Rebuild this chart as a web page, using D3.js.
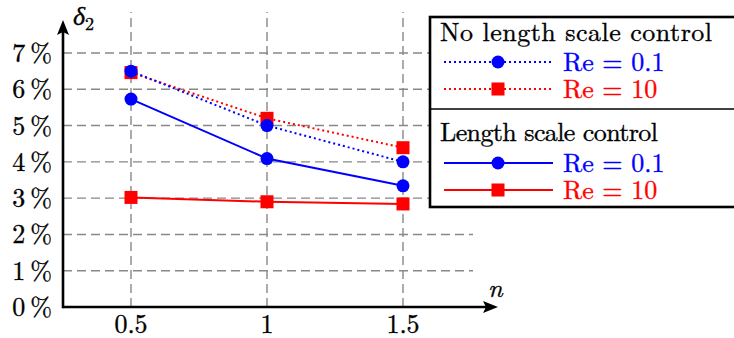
<!DOCTYPE html>
<html>
<head>
<meta charset="utf-8">
<script src="https://cdn.jsdelivr.net/npm/d3@7"></script>
<style>
  body { margin: 0; background: #fff; }
</style>
</head>
<body>
<div id="chart"></div>
<script>
// data
const N_VALUES = [0.5, 1, 1.5];
const Y_TICKS = [0, 1, 2, 3, 4, 5, 6, 7];
const NOCTRL_RE01 = [6.5, 5.0, 4.0];
const NOCTRL_RE10 = [6.46, 5.2, 4.39];
const CTRL_RE01 = [5.73, 4.09, 3.34];
const CTRL_RE10 = [3.02, 2.90, 2.84];

const FRAME_WIDTH = 734;
const FRAME_HEIGHT = 338;
const FONT = "\"Latin Modern Roman\", \"Liberation Serif\", serif";
const FS = 26;

const BLUE = "#0000ff";
const RED = "#ff0000";

const svg = d3.select("#chart")
  .append("svg")
    .attr("width", FRAME_WIDTH)
    .attr("height", FRAME_HEIGHT);

// helper so every text gets the serif font (slight stroke, LaTeX pdf looks a bit heavier)
function txt(parent, color = "#000") {
  return parent.append("text")
    .style("font-family", FONT)
    .attr("font-size", FS)
    .attr("fill", color)
    .attr("stroke", color)
    .attr("stroke-width", 0.35);
}

// scales
const X = d3.scaleLinear().domain([0.5, 1.5]).range([131, 403]);
const Y = d3.scaleLinear().domain([0, 7]).range([307, 53]);
const X0 = 63, Y0 = 307;

// grid
const grid = svg.append("g")
  .attr("stroke", "#888")
  .attr("stroke-width", 1.4)
  .attr("stroke-dasharray", "9,5");

grid.selectAll("line.h")
  .data(Y_TICKS.filter(d => d > 0))
  .enter()
  .append("line")
    .attr("x1", X0).attr("x2", 473)
    .attr("y1", d => Y(d)).attr("y2", d => Y(d));

grid.selectAll("line.v")
  .data(N_VALUES)
  .enter()
  .append("line")
    .attr("x1", d => X(d)).attr("x2", d => X(d))
    .attr("y1", Y0).attr("y2", 12);

// axes
svg.append("line")
  .attr("x1", X0).attr("x2", 486)
  .attr("y1", Y0).attr("y2", Y0)
  .attr("stroke", "#000").attr("stroke-width", 2.6);
svg.append("path")
  .attr("d", `M498,${Y0} L483,${Y0 - 6} L486,${Y0} L483,${Y0 + 6} Z`)
  .attr("fill", "#000");
svg.append("line")
  .attr("x1", X0).attr("x2", X0)
  .attr("y1", Y0 + 1.3).attr("y2", 32)
  .attr("stroke", "#000").attr("stroke-width", 2.6);
svg.append("path")
  .attr("d", `M${X0},20 L${X0 - 6},35 L${X0},32 L${X0 + 6},35 Z`)
  .attr("fill", "#000");

// tick labels
Y_TICKS.forEach(d => {
  txt(svg)
    .attr("x", 52)
    .attr("y", Y(d) + 9)
    .attr("text-anchor", "end")
    .text(d + "\u2009%");
});

N_VALUES.forEach(d => {
  txt(svg)
    .attr("x", X(d))
    .attr("y", 333)
    .attr("text-anchor", "middle")
    .text(d);
});

// axis labels
const dl = txt(svg)
  .attr("x", 73).attr("y", 25)
  .attr("font-style", "italic");
dl.append("tspan").text("δ");
dl.append("tspan").attr("font-size", 18).attr("dy", 5).attr("font-style", "normal").text("2");

txt(svg)
  .attr("x", 488).attr("y", 297)
  .attr("font-style", "italic")
  .text("n");

// series
const series = [
  {values: NOCTRL_RE10, color: RED, dotted: true, marker: "square"},
  {values: NOCTRL_RE01, color: BLUE, dotted: true, marker: "circle"},
  {values: CTRL_RE01, color: BLUE, dotted: false, marker: "circle"},
  {values: CTRL_RE10, color: RED, dotted: false, marker: "square"}
];

const line = d3.line()
  .x((d, i) => X(N_VALUES[i]))
  .y(d => Y(d));

function drawMarker(g, kind, color, x, y) {
  if (kind === "circle") {
    g.append("circle")
      .attr("cx", x).attr("cy", y).attr("r", 6.5)
      .attr("fill", color);
  } else {
    g.append("rect")
      .attr("x", x - 6.5).attr("y", y - 6.5)
      .attr("width", 13).attr("height", 13)
      .attr("fill", color);
  }
}

series.forEach(s => {
  const g = svg.append("g");
  g.append("path")
    .attr("d", line(s.values))
    .attr("fill", "none")
    .attr("stroke", s.color)
    .attr("stroke-width", 2)
    .attr("stroke-dasharray", s.dotted ? "2,3" : null);
  s.values.forEach((v, i) => drawMarker(g, s.marker, s.color, X(N_VALUES[i]), Y(v)));
});

// legend
const leg = svg.append("g");
leg.append("rect")
  .attr("x", 430).attr("y", 17)
  .attr("width", 310).attr("height", 190)
  .attr("fill", "#fff")
  .attr("stroke", "#000").attr("stroke-width", 2.6);
leg.append("line")
  .attr("x1", 430).attr("x2", 740)
  .attr("y1", 109).attr("y2", 109)
  .attr("stroke", "#000").attr("stroke-width", 1.3);

const legendRows = [
  {type: "head", y: 41, w: 272, label: "No length scale control"},
  {type: "item", y: 62, label: "Re = 0.1", s: series[1]},
  {type: "item", y: 89, label: "Re = 10", s: series[0]},
  {type: "head", y: 141, w: 218, label: "Length scale control"},
  {type: "item", y: 163, label: "Re = 0.1", s: series[2]},
  {type: "item", y: 190, label: "Re = 10", s: series[3]}
];

legendRows.forEach(r => {
  if (r.type === "head") {
    txt(leg)
      .attr("x", 440).attr("y", r.y)
      .attr("textLength", r.w)
      .attr("lengthAdjust", "spacing")
      .text(r.label);
  } else {
    leg.append("line")
      .attr("x1", 444).attr("x2", 553)
      .attr("y1", r.y).attr("y2", r.y)
      .attr("stroke", r.s.color)
      .attr("stroke-width", 2)
      .attr("stroke-dasharray", r.s.dotted ? "2,3" : null);
    drawMarker(leg, r.s.marker, r.s.color, 498, r.y);
    txt(leg, r.s.color)
      .attr("x", 563).attr("y", r.y + 9)
      .text(r.label);
  }
});
</script>
</body>
</html>
